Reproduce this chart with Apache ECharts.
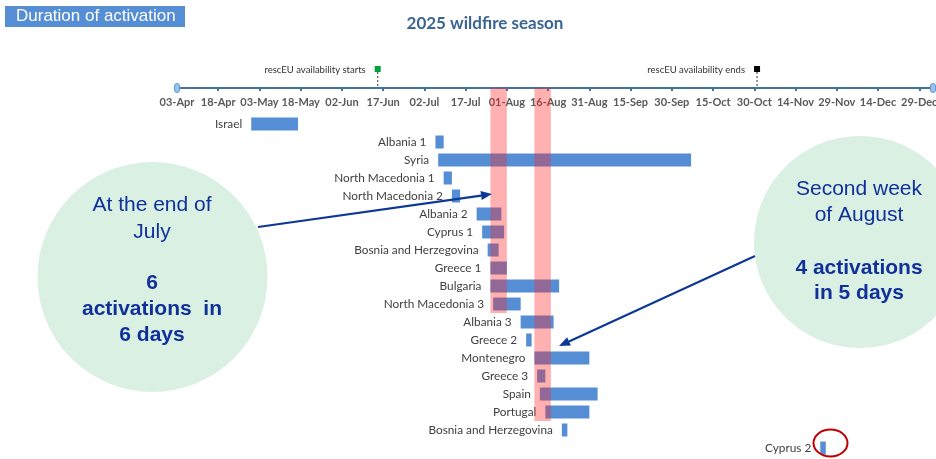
<!DOCTYPE html>
<html>
<head>
<meta charset="utf-8">
<script src="https://cdn.jsdelivr.net/npm/echarts@6/dist/echarts.min.js"></script>
<style>html,body{margin:0;padding:0;background:#fff}#c{width:936px;height:459px}</style>
</head>
<body>
<div id="c"></div>
<script>
// ---- data ----
const rowLabels = ['Israel','Albania 1','Syria','North Macedonia 1','North Macedonia 2','Albania 2','Cyprus 1','Bosnia and Herzegovina','Greece 1','Bulgaria','North Macedonia 3','Albania 3','Greece 2','Montenegro','Greece 3','Spain','Portugal','Bosnia and Herzegovina','Cyprus 2'];
const rowStart = ['2025-04-30','2025-07-06','2025-07-07','2025-07-09','2025-07-12','2025-07-21','2025-07-23','2025-07-25','2025-07-26','2025-07-26','2025-07-27','2025-08-06','2025-08-08','2025-08-11','2025-08-12','2025-08-13','2025-08-15','2025-08-21','2025-11-23'];
const rowEnd   = ['2025-05-17','2025-07-09','2025-10-07','2025-07-12','2025-07-15','2025-07-30','2025-07-31','2025-07-29','2025-08-01','2025-08-20','2025-08-06','2025-08-18','2025-08-10','2025-08-31','2025-08-15','2025-09-03','2025-08-31','2025-08-23','2025-11-25'];
const xTickLabels = ['03-Apr','18-Apr','03-May','18-May','02-Jun','17-Jun','02-Jul','17-Jul','01-Aug','16-Aug','31-Aug','15-Sep','30-Sep','15-Oct','30-Oct','14-Nov','29-Nov','14-Dec','29-Dec'];
const bandStart = ['2025-07-26','2025-08-11'];
const bandEnd = ['2025-08-01','2025-08-17'];
const bandLastRow = [10, 16];
const milestoneDates = ['2025-06-15','2025-10-31'];
const milestoneLabels = ['rescEU availability starts','rescEU availability ends'];
const milestoneColors = ['#00A03C','#000000'];
const axisStart = '2025-04-03';
const axisEnd = '2026-01-03';

// ---- helpers ----
const base = Date.parse(axisStart + 'T00:00:00Z');
function dayOf(s){ return Math.round((Date.parse(s + 'T00:00:00Z') - base) / 86400000); }
const AXIS_OFFSET = 27;

const barData = rowLabels.map((l, i) => [dayOf(rowStart[i]), dayOf(rowEnd[i]), i]);
const bandData = bandStart.map((s, i) => [dayOf(s), dayOf(bandEnd[i]), bandLastRow[i]]);
const msData = milestoneDates.map((d, i) => [dayOf(d), 0, i]);

const chart = echarts.init(document.getElementById('c'), null, {renderer: 'canvas'});

function arrow(x1, y1, x2, y2, color){
  const ang = Math.atan2(y2 - y1, x2 - x1);
  const L = 11, W = 4.5;
  const bx = x2 - L * Math.cos(ang), by = y2 - L * Math.sin(ang);
  const px = -Math.sin(ang) * W, py = Math.cos(ang) * W;
  return [
    {type: 'line', shape: {x1: x1, y1: y1, x2: bx, y2: by}, style: {stroke: color, lineWidth: 2.2}, z: 50},
    {type: 'polygon', shape: {points: [[x2, y2], [bx + px, by + py], [bx - px, by - py]]}, style: {fill: color}, z: 50}
  ];
}
const navy = '#10309A';
const circTxt = (x, y, t, bold) => ({type: 'text', x: x, y: y, z: 40, style: {text: t, fill: navy, font: (bold ? 'bold ' : '') + '21px "Liberation Sans", Arial, sans-serif', align: 'center', verticalAlign: 'middle'}});

const option = {
  animation: false,
  grid: {left: 177, right: 3, top: 115, bottom: 2, outerBoundsMode: 'none', containLabel: false},
  xAxis: {
    type: 'value', min: 0, max: dayOf(axisEnd), interval: 15, position: 'top', offset: AXIS_OFFSET,
    axisLine: {show: true, lineStyle: {color: '#44729E', width: 2}},
    axisTick: {show: true, inside: true, length: 3, lineStyle: {color: '#44729E', width: 2}},
    axisLabel: {inside: true, margin: 9, showMaxLabel: false, hideOverlap: false, color: '#595959', fontFamily: 'Lato', fontWeight: 'bold', fontSize: 11,
      formatter: v => xTickLabels[Math.round(v / 15)] || ''},
    splitLine: {show: false}
  },
  yAxis: {type: 'category', inverse: true, data: rowLabels, show: false},
  title: {text: '2025 wildfire season', left: 480, top: 10, textAlign: 'center',
    textStyle: {color: '#3A6593', fontFamily: 'Lato', fontWeight: 'bold', fontSize: 17}},
  series: [
    {
      type: 'custom', data: barData, encode: {x: [0, 1], y: 2}, clip: false, z: 2,
      renderItem: function(params, api){
        const r = api.value(2);
        const s = api.coord([api.value(0), r]);
        const e = api.coord([api.value(1), r]);
        const h = 13;
        return {type: 'group', children: [
          {type: 'rect', shape: {x: s[0], y: s[1] - h / 2, width: Math.max(e[0] - s[0], 4), height: h}, style: {fill: '#558ED5'}},
          {type: 'text', x: s[0] - 9, y: s[1], style: {text: rowLabels[r], fill: '#404040', font: '11.8px Lato', align: 'right', verticalAlign: 'middle'}}
        ]};
      }
    },
    {
      type: 'custom', data: bandData, encode: {x: [0, 1], y: 2}, clip: false, z: 5,
      renderItem: function(params, api){
        const r = api.value(2);
        const s = api.coord([api.value(0), r]);
        const e = api.coord([api.value(1), r]);
        const top = params.coordSys.y - AXIS_OFFSET;
        const bottom = s[1] + 9;
        return {type: 'rect', shape: {x: s[0], y: top, width: e[0] - s[0], height: bottom - top}, style: {fill: 'rgba(255,40,40,0.36)'}};
      }
    },
    {
      type: 'custom', data: msData, encode: {x: 0}, clip: false, z: 6,
      renderItem: function(params, api){
        const i = api.value(2);
        const p = api.coord([api.value(0), 0]);
        const cs = params.coordSys;
        const ay = cs.y - AXIS_OFFSET;
        const children = [
          {type: 'line', shape: {x1: p[0], y1: ay - 16, x2: p[0], y2: ay - 1}, style: {stroke: '#555', lineWidth: 1.2, lineDash: [2, 2]}},
          {type: 'rect', shape: {x: p[0] - 3, y: ay - 22, width: 6, height: 6}, style: {fill: milestoneColors[i]}},
          {type: 'text', x: p[0] - 12, y: ay - 18, style: {text: milestoneLabels[i], fill: '#333', font: '9.5px Lato', align: 'right', verticalAlign: 'middle'}}
        ];
        if (i === 0) {
          [cs.x, cs.x + cs.width].forEach(function(xx){
            children.push({type: 'rect', shape: {x: xx - 2.5, y: ay - 4.5, width: 5, height: 9, r: 2.5}, style: {fill: '#9CC3EC', stroke: '#5B9BD5', lineWidth: 1}});
          });
        }
        return {type: 'group', children: children};
      }
    }
  ],
  graphic: [
    {type: 'rect', shape: {x: 5, y: 6, width: 180, height: 21}, style: {fill: '#558ED5'}, z: 10},
    {type: 'text', x: 16, y: 16.5, z: 11, style: {text: 'Duration of activation', fill: '#fff', font: '17px "Liberation Sans", Arial, sans-serif', verticalAlign: 'middle'}},
    {type: 'circle', shape: {cx: 152.5, cy: 277, r: 115}, style: {fill: '#DAF0E3'}, z: 30},
    {type: 'circle', shape: {cx: 860, cy: 242, r: 106}, style: {fill: '#DAF0E3'}, z: 30},
    circTxt(152, 205, 'At the end of', false),
    circTxt(152, 232, 'July', false),
    circTxt(152, 283, '6', true),
    circTxt(152, 309, 'activations  in', true),
    circTxt(152, 335, '6 days', true),
    circTxt(859, 189, 'Second week', false),
    circTxt(859, 215, 'of August', false),
    circTxt(859, 268, '4 activations', true),
    circTxt(859, 293, 'in 5 days', true),
    ...arrow(258, 227, 492, 194, '#0E3896'),
    ...arrow(755, 256, 559, 346, '#0E3896'),
    {type: 'ellipse', shape: {cx: 830.5, cy: 443, rx: 17, ry: 13.5}, style: {fill: 'none', stroke: '#C00000', lineWidth: 2}, z: 60}
  ]
};
chart.setOption(option);
</script>
</body>
</html>
